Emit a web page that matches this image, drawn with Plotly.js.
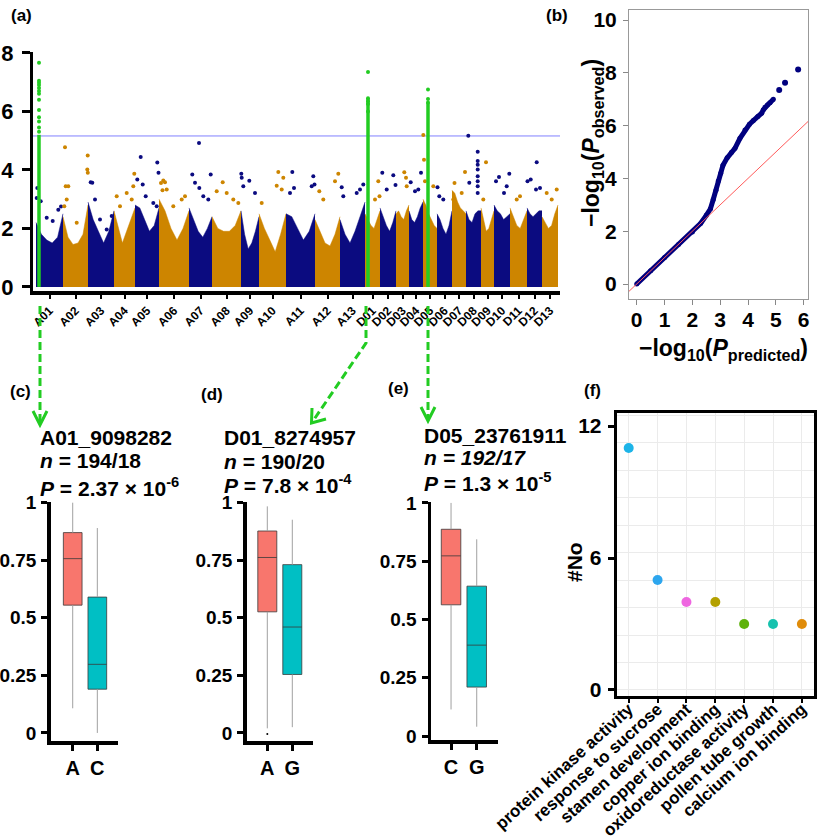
<!DOCTYPE html>
<html><head><meta charset="utf-8">
<script src="https://cdn.plot.ly/plotly-3.0.1.min.js"></script>
<style>html,body{margin:0;padding:0;background:#fff}#chart{width:818px;height:840px}</style>
</head><body><div id="chart"></div>
<script>
// ---------------- DATA ----------------
// (a) Manhattan plot
const chromNames = ['A01','A02','A03','A04','A05','A06','A07','A08','A09','A10','A11','A12','A13',
                    'D01','D02','D03','D04','D05','D06','D07','D08','D09','D10','D11','D12','D13'];
const chromLen = [27,25,26,21,24,30,23,29,18,27,29,25,25,15,16,13,14,14,15,14,15,13,16,17,15,16];
// top of the dense SNP band at 0, 0.2, 0.4, 0.6, 0.8 and 1 of each chromosome (-log10 P)
const bandTop = [
 [2.2,1.8,1.6,1.5,1.7,2.5],[2.4,1.7,1.45,1.5,1.8,2.8],[2.9,2.3,1.9,1.5,1.9,2.6],[2.6,2.0,1.5,1.9,2.3,2.7],
 [2.8,2.7,2.3,1.9,2.1,2.7],[3.0,2.6,2.0,1.6,2.0,2.6],[2.7,2.3,1.9,1.7,2.0,2.4],[2.4,2.0,1.9,1.9,2.1,2.6],
 [2.6,1.8,1.3,1.5,1.9,2.4],[2.5,2.0,1.6,1.2,1.8,2.5],[2.5,2.4,2.0,1.6,1.9,2.5],[2.3,1.9,1.5,1.4,1.8,2.4],
 [2.3,1.8,1.5,1.9,2.4,2.9],
 [2.5,2.3,2.1,2.0,2.3,2.6],[2.7,2.4,2.1,1.9,2.2,2.6],[2.5,2.6,2.4,2.3,2.6,2.8],[2.6,2.3,2.2,2.4,2.7,2.9],
 [3.0,2.8,2.5,2.3,2.1,2.0],[2.5,2.3,2.0,1.8,2.1,2.6],[3.3,3.2,2.9,2.7,2.6,2.5],[2.6,2.3,2.2,2.5,2.6,2.6],
 [2.7,2.3,1.9,2.0,2.3,2.6],[2.8,2.6,2.5,2.3,2.4,2.5],[2.7,2.4,2.1,2.0,2.3,2.6],[2.7,2.5,2.4,2.5,2.6,2.6],
 [2.4,2.2,2.0,2.1,2.5,2.8]];
// SNPs standing above the band
const outChrom = ['A01','A01','A01','A01','A01','A01','A01',
 'A02','A02','A02','A02','A02','A02','A02','A02','A02',
 'A03','A03','A03','A03','A03','A03',
 'A04','A04','A04','A04','A04','A04',
 'A05','A05','A05','A05','A05','A05','A05','A05',
 'A06','A06','A06','A06','A06','A06','A06','A06',
 'A07','A07','A07','A07','A07','A07','A07',
 'A08','A08','A08','A08','A08',
 'A09','A09','A09','A09','A09',
 'A10','A10','A10','A10','A10',
 'A11','A11','A11','A11','A11','A11',
 'A12','A12','A12','A12',
 'A13','A13','A13','A13','A13',
 'D01','D01','D01',
 'D02','D02','D02','D02',
 'D03','D03','D03',
 'D04','D04','D04','D04',
 'D05','D05','D05','D05',
 'D06','D06','D06',
 'D07','D07','D07','D07',
 'D08','D08','D08','D08','D08','D08','D08','D08','D08','D08',
 'D09','D09',
 'D10','D10','D10','D10','D10',
 'D11','D11',
 'D12','D12','D12','D12','D12',
 'D13','D13','D13'];
const outPos = [1.3,0.7,4.7,10.7,16.7,22.3,25,
 2,2.7,5.3,3.7,1.3,13.7,24.7,24.3,24.8,
 2.7,4.3,7,12,18.7,23.7,
 2.7,6,12.7,17.7,20.3,19.3,
 2.3,5.7,7.7,10.7,18.3,21.7,22.3,23.5,
 4.3,6,7.7,14.3,22.7,26,2,3.5,
 3.3,6,10,10.3,14.3,21.7,19.3,
 4.7,10.7,14.7,21.3,26.3,
 0.3,0.7,2.3,8.3,14,
 2.7,17.7,19.3,24.3,22.7,
 6.3,8,4,27.3,28.5,25.7,
 4.3,20,23.3,8.3,
 1.7,3.3,20,23.3,16.7,
 13.3,14.5,10,
 2.3,6.7,13.3,15.5,
 8.3,10,10.7,
 1.7,6,12,9.3,
 0.3,1,2,10.3,
 0.5,2.3,6.3,
 13,9.7,1.3,2.5,
 2.3,3.3,11.7,11.7,11.7,11.7,11.7,11.7,11.7,11.7,
 5,2.3,
 2,5,10,15.3,12.7,
 10,6.7,
 0.5,3.7,9.7,9,13,
 4.7,14.7,9.7];
const outVal = [3.38,3.04,2.93,2.36,2.25,2.64,2.75,
 4.77,3.44,3.44,2.99,2.76,2.19,4.49,4.01,3.9,
 3.58,3.56,2.99,2.3,1.96,2.42,
 3.1,2.76,3.21,2.99,3.87,3.44,
 3.67,4.44,3.5,3.1,2.87,2.76,4.25,3.9,
 3.64,3.58,3.33,2.76,2.99,3.1,3.55,3.3,
 3.84,3.56,4.92,3.38,3.1,3.84,2.99,
 3.27,3.58,3.21,2.99,2.87,
 3.87,3.73,3.44,3.63,3.21,
 2.87,3.46,3.93,3.73,3.33,
 3.93,3.38,3.21,3.78,3.5,3.44,
 3.27,3.61,3.87,2.99,
 3.41,3.1,3.33,3.5,3.21,
 3.61,3.1,2.99,
 3.9,3.33,3.82,3.48,
 3.92,3.73,3.44,
 3.58,3.27,3.9,3.33,
 5.19,4.35,3.61,3.44,
 3.41,3.1,2.99,
 3.93,3.21,2.99,3.55,
 5.17,3.56,4.62,4.3,4.18,4.01,3.78,3.61,3.44,3.21,
 4.26,2.99,
 3.61,3.76,3.21,3.87,3.44,
 3.1,2.99,
 3.61,3.67,4.26,3.33,3.38,
 3.21,3.33,2.99];
// significant loci (green)
const sigChrom = ['A01','D01','D05'];
const sigPos = [3,3,5];
const sigSolidTop = [5.2,6.45,6.3];
const sigA01 = [7.66,7.05,6.98,6.9,6.8,6.7,6.6,6.4,6.05,5.8,5.65,5.45,5.3];
const sigD01 = [7.35,6.45,6.35,6.25,6.0];
const sigD05 = [6.75,6.42,6.3];
const threshold = 5.16;

// (b) QQ plot
const qqExpected = [0,0.5,1.0,1.5,2.0,2.3,2.5,2.65,2.75,2.85,2.93,3.02,3.1,3.25,3.4,3.53,3.71,3.89,4.05,4.19,4.35,4.49,4.55,4.61,4.70,4.79,4.91];
const qqObserved = [0,0.5,1.0,1.5,1.97,2.3,2.6,2.85,3.2,3.55,3.9,4.2,4.5,4.78,4.98,5.14,5.52,5.83,6.05,6.19,6.35,6.47,6.6,6.7,6.78,6.87,7.0];
const qqTailExpected = [5.12,5.33,5.8];
const qqTailObserved = [7.35,7.62,8.13];

// (c)(d)(e) boxplots
const snpIds = ['A01_9098282','D01_8274957','D05_23761911'];
const snpN = ['<i>n</i> = 194/18','<i>n</i> = 190/20','<i>n = 192/17</i>'];
const snpP = ['<i>P</i> = 2.37 × 10<sup>-6</sup>','<i>P</i> = 7.8 × 10<sup>-4</sup>','<i>P</i> = 1.3 × 10<sup>-5</sup>'];
const cAlleles = ['A','C'], cQ1 = [0.555,0.19], cMed = [0.757,0.298], cQ3 = [0.87,0.59], cLow = [0.107,0.0], cHigh = [1.0,0.89];
const dAlleles = ['A','G'], dQ1 = [0.526,0.254], dMed = [0.762,0.46], dQ3 = [0.877,0.731], dLow = [0.02,0.025], dHigh = [0.984,0.926];
const dOutlierAllele = ['A'], dOutlierVal = [-0.005];
const eAlleles = ['C','G'], eQ1 = [0.563,0.21], eMed = [0.773,0.39], eQ3 = [0.887,0.643], eLow = [0.114,0.04], eHigh = [1.0,0.844];

// (f) GO terms
const goTerms = ['protein kinase activity','response to sucrose','stamen development','copper ion binding','oxidoreductase activity','pollen tube growth','calcium ion binding'];
const goCounts = [11,5,4,4,3,3,3];
const goColors = ['#1DB4E8','#2DA6EE','#EE66E0','#B3A000','#5FB20C','#17C2AE','#E08C0A'];

// ---------------- STYLE ----------------
const W = 818, H = 840;
const px = v => v / W, py = v => 1 - v / H;
const FONT = 'Liberation Sans, Arial, Helvetica, sans-serif';
const NAVY = '#0B0B80', ORANGE = '#CD8500', GREEN = '#22CC22';
const bf = (size, color) => ({family: FONT, size: size, color: color || '#000', weight: 'bold'});

const traces = [];
const chromStart = [];
let acc = 0;
chromLen.forEach(l => { chromStart.push(acc); acc += l; });
const chromCenter = chromStart.map((s, i) => s + chromLen[i] / 2);
const chromIdx = name => chromNames.indexOf(name);
const bandFrac = [0, 0.2, 0.4, 0.6, 0.8, 1];

chromNames.forEach((c, i) => {
  const s = chromStart[i], L = chromLen[i];
  const col = i % 2 === 0 ? NAVY : ORANGE;
  traces.push({type:'scatter', mode:'lines', xaxis:'x', yaxis:'y',
    x: bandFrac.map(f => s + f * L), y: bandTop[i], fill:'tozeroy',
    fillcolor: col, line:{width:0.5, color: col}, hoverinfo:'skip'});
});
traces.push({type:'scatter', mode:'markers', xaxis:'x', yaxis:'y',
  x: outChrom.map((c, k) => chromStart[chromIdx(c)] + outPos[k]), y: outVal,
  marker:{size:4, color: outChrom.map(c => chromIdx(c) % 2 === 0 ? NAVY : ORANGE)}, hoverinfo:'skip'});
const sigPoints = [sigA01, sigD01, sigD05];
sigChrom.forEach((c, k) => {
  const xpos = chromStart[chromIdx(c)] + sigPos[k];
  traces.push({type:'scatter', mode:'lines', xaxis:'x', yaxis:'y', x:[xpos, xpos], y:[0, sigSolidTop[k]],
    line:{color:GREEN, width:3.5}, hoverinfo:'skip'});
  traces.push({type:'scatter', mode:'markers', xaxis:'x', yaxis:'y',
    x: sigPoints[k].map(() => xpos), y: sigPoints[k], marker:{size:4, color:GREEN}, hoverinfo:'skip'});
});

// QQ
traces.push({type:'scatter', mode:'lines+markers', xaxis:'x2', yaxis:'y2', x: qqExpected, y: qqObserved,
  line:{color:'#00007F', width:5}, marker:{size:5, color:'#00007F'}, hoverinfo:'skip'});
traces.push({type:'scatter', mode:'markers', xaxis:'x2', yaxis:'y2', x: qqTailExpected, y: qqTailObserved,
  marker:{size:6, color:'#00007F'}, hoverinfo:'skip'});

// Boxplots
const boxColors = ['#F8766D', '#00BFC4'];
function addBoxes(cats, q1, med, q3, lo, hi, xa, ya) {
  cats.forEach((c, i) => {
    traces.push({type:'scatter', mode:'lines', xaxis:xa, yaxis:ya, x:[c, c, null, c, c],
      y:[q3[i], hi[i], null, q1[i], lo[i]], line:{color:'#A0A0A0', width:1}, hoverinfo:'skip'});
    traces.push({type:'box', xaxis:xa, yaxis:ya, x:[c], q1:[q1[i]], median:[med[i]], q3:[q3[i]],
      lowerfence:[q1[i]], upperfence:[q3[i]], fillcolor: boxColors[i], line:{color:'#3A3A3A', width:0.8},
      width:0.76, whiskerwidth:0, boxpoints:false, hoverinfo:'skip'});
  });
}
addBoxes(cAlleles, cQ1, cMed, cQ3, cLow, cHigh, 'x3', 'y3');
addBoxes(dAlleles, dQ1, dMed, dQ3, dLow, dHigh, 'x4', 'y4');
addBoxes(eAlleles, eQ1, eMed, eQ3, eLow, eHigh, 'x5', 'y5');
traces.push({type:'scatter', mode:'markers', xaxis:'x4', yaxis:'y4', x: dOutlierAllele, y: dOutlierVal,
  marker:{size:2, color:'#000'}, hoverinfo:'skip'});

// GO dot plot
traces.push({type:'scatter', mode:'markers', xaxis:'x6', yaxis:'y6', x: goTerms, y: goCounts,
  marker:{size:10, color: goColors}, hoverinfo:'skip'});

// ---------------- LAYOUT ----------------
const blackAxis = {showline:true, linecolor:'#000', zeroline:false, showgrid:false, ticks:'outside', tickcolor:'#000', fixedrange:true};
const boxY = Object.assign({}, blackAxis, {linewidth:3.5, tickwidth:3, ticklen:6, tickvals:[0,0.25,0.5,0.75,1],
  ticktext:['0','0.25','0.5','0.75','1'], tickfont: bf(19), ticklabelstandoff:1});
const boxX = Object.assign({}, blackAxis, {type:'category', linewidth:3.5, tickwidth:3, ticklen:6, tickfont: bf(20)});

const layout = {
  width: W, height: H, margin:{l:0, r:0, t:0, b:0}, showlegend:false,
  paper_bgcolor:'#fff', plot_bgcolor:'rgba(0,0,0,0)', font:{family:FONT, color:'#000'},
  xaxis: Object.assign({}, blackAxis, {domain:[px(33), px(560)], range:[-3, 524], anchor:'y',
    tickvals: chromCenter, ticktext: chromNames, tickangle:-45, tickfont: bf(12), linewidth:4, ticklen:4, tickwidth:2}),
  yaxis: Object.assign({}, blackAxis, {domain:[py(291), py(52)], range:[-0.14, 8.03], anchor:'x',
    tickvals:[0,2,4,6,8], tickfont: bf(22), linewidth:3, ticklen:8, tickwidth:3, ticklabelstandoff:4}),
  xaxis2: {domain:[px(629), px(808)], range:[-0.277, 6.155], anchor:'y2', showline:true, mirror:true, linecolor:'#999', linewidth:1,
    zeroline:false, showgrid:false, ticks:'outside', tickcolor:'#888', ticklen:5, tickvals:[0,1,2,3,4,5,6], tickfont: bf(21), ticklabelstandoff:-3, fixedrange:true},
  yaxis2: {domain:[py(299), py(10)], range:[-0.568, 10.38], anchor:'x2', showline:true, mirror:true, linecolor:'#999', linewidth:1,
    zeroline:false, showgrid:false, ticks:'outside', tickcolor:'#888', ticklen:5, tickvals:[0,2,4,6,8,10], tickfont: bf(21), ticklabelstandoff:2, fixedrange:true},
  xaxis3: Object.assign({}, boxX, {domain:[px(50.7), px(118)], range:[-0.894, 1.84], anchor:'y3', categoryorder:'array', categoryarray:cAlleles}),
  yaxis3: Object.assign({}, boxY, {domain:[py(741), py(502)], range:[-0.035, 1.003], anchor:'x3'}),
  xaxis4: Object.assign({}, boxX, {domain:[px(246.7), px(313.3)], range:[-0.824, 1.84], anchor:'y4', categoryorder:'array', categoryarray:dAlleles}),
  yaxis4: Object.assign({}, boxY, {domain:[py(741), py(502)], range:[-0.035, 1.003], anchor:'x4'}),
  xaxis5: Object.assign({}, boxX, {domain:[px(431), px(498.3)], range:[-0.78, 1.84], anchor:'y5', categoryorder:'array', categoryarray:eAlleles}),
  yaxis5: Object.assign({}, boxY, {domain:[py(740), py(502)], range:[-0.017, 1.004], anchor:'x5'}),
  xaxis6: {domain:[px(616.7), px(814.3)], type:'category', categoryorder:'array', categoryarray:goTerms, range:[-0.416, 6.43], anchor:'y6',
    showline:true, mirror:true, linecolor:'#000', linewidth:3, zeroline:false, showgrid:true, gridcolor:'#EBEBEB', gridwidth:1,
    ticks:'outside', tickcolor:'#000', ticklen:4, tickwidth:2, tickangle:-42, tickfont: bf(17), ticklabelstandoff:-10, fixedrange:true},
  yaxis6: {domain:[py(695.7), py(413.3)], range:[-0.26, 12.58], anchor:'x6', showline:true, mirror:true, linecolor:'#000', linewidth:3,
    zeroline:false, showgrid:false, ticks:'outside', tickcolor:'#000', ticklen:6, tickwidth:3, tickvals:[0,6,12], tickfont: bf(21),
    ticklabelstandoff:2, minor:{tickmode:'linear', tick0:0, dtick:1.25, showgrid:true, gridcolor:'#EBEBEB', gridwidth:1, ticks:''}, fixedrange:true},
  shapes: [],
  annotations: []
};

layout.shapes.push({type:'line', xref:'x domain', yref:'y', x0:0, x1:1, y0:threshold, y1:threshold, line:{color:'#8080FF', width:1}, layer:'below'});
layout.shapes.push({type:'line', xref:'x2', yref:'y2', x0:-0.277, y0:-0.277, x1:6.155, y1:6.155, line:{color:'#FF5A5A', width:1}});

// green dashed arrows (decoration, pixel positions)
const P = (x, y) => px(x) + ',' + py(y);
const dashLine = {color:GREEN, width:3, dash:'8px,4px'};
const headLine = {color:GREEN, width:3};
layout.shapes.push({type:'path', xref:'paper', yref:'paper', path:'M' + P(40,306) + 'L' + P(40,424), line:dashLine});
layout.shapes.push({type:'path', xref:'paper', yref:'paper', path:'M' + P(33,411) + 'L' + P(40,425) + 'L' + P(47,411), line:headLine});
layout.shapes.push({type:'path', xref:'paper', yref:'paper', path:'M' + P(366,306) + 'L' + P(366,343) + 'L' + P(313,421), line:dashLine});
layout.shapes.push({type:'path', xref:'paper', yref:'paper', path:'M' + P(312,408) + 'L' + P(311.5,423) + 'L' + P(326,419), line:headLine});
layout.shapes.push({type:'path', xref:'paper', yref:'paper', path:'M' + P(428,306) + 'L' + P(428,419), line:dashLine});
layout.shapes.push({type:'path', xref:'paper', yref:'paper', path:'M' + P(421,407) + 'L' + P(428,421) + 'L' + P(435,407), line:headLine});

function ann(text, x, y, size, opts) {
  layout.annotations.push(Object.assign({text:text, xref:'paper', yref:'paper', x:px(x), y:py(y), showarrow:false,
    xanchor:'center', yanchor:'middle', font: bf(size)}, opts || {}));
}
ann('(a)', 21, 15, 17); ann('(b)', 557, 15, 17); ann('(c)', 20, 391, 17);
ann('(d)', 212, 394, 17); ann('(e)', 398, 388, 17); ann('(f)', 592, 390, 17);
ann('−log<sub>10</sub>(<i>P</i><sub>observed</sub>)', 592, 143, 23, {textangle:-90});
ann('−log<sub>10</sub>(<i>P</i><sub>predicted</sub>)', 723, 349, 23);
ann('#No', 574, 562, 21, {textangle:-90});
const hdrX = [38, 222, 422];
const hdrY = [[437,460,487],[437,461,484],[435,458,482]];
snpIds.forEach((id, k) => {
  ann(id, hdrX[k], hdrY[k][0], 21, {xanchor:'left'});
  ann(snpN[k], hdrX[k], hdrY[k][1], 21, {xanchor:'left'});
  ann(snpP[k], hdrX[k], hdrY[k][2], 21, {xanchor:'left'});
});

Plotly.newPlot('chart', traces, layout, {staticPlot:true, displayModeBar:false});
</script></body></html>
